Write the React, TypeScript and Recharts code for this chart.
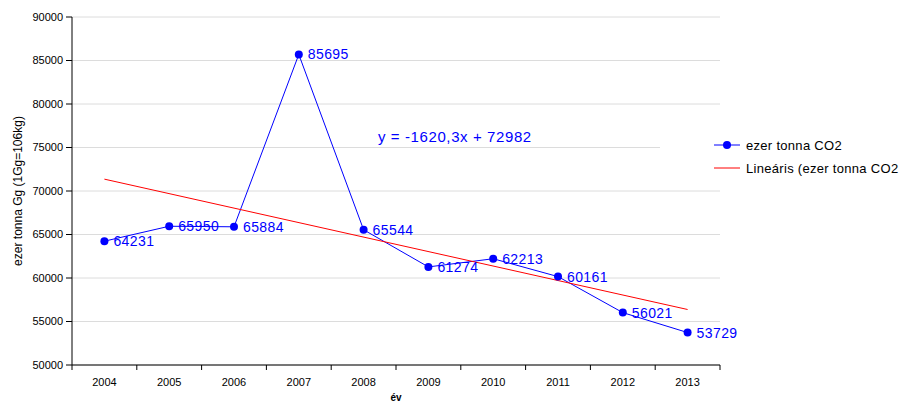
import * as React from "react";
import {
    CartesianGrid,
    LabelList,
    Line,
    LineChart,
    XAxis,
    YAxis,
} from "recharts";

const YEARS: string[] = ["2004", "2005", "2006", "2007", "2008", "2009", "2010", "2011", "2012", "2013"];
const CO2_VALUES: number[] = [64231, 65950, 65884, 85695, 65544, 61274, 62213, 60161, 56021, 53729];
// trendline end points (y = -1620,3x + 72982)
const TREND_X: number[] = [1, 10];
const TREND_VALUES: number[] = [71362, 56379];
const Y_TICKS: number[] = [50000, 55000, 60000, 65000, 70000, 75000, 80000, 85000, 90000];

const FONT = '"Liberation Sans", Arial, sans-serif';
const BLUE = "#0000ff";
const RED = "#ff0000";

const CHART_W = 905;
const CHART_H = 402;
const MARGIN = { top: 17, right: 185, bottom: 7, left: 12 };
const Y_AXIS_W = 60;
const BAND = (CHART_W - MARGIN.left - Y_AXIS_W - MARGIN.right) / YEARS.length;

const co2Data = YEARS.map((year, i) => ({ x: i + 1, year, value: CO2_VALUES[i] }));
const trendData = TREND_X.map((x, i) => ({ x, trend: TREND_VALUES[i] }));

const YearTick = (props: any) => {
    const { x, y, payload, index } = props;
    const year = YEARS[payload.value - 1];
    return (
        <g>
            <line x1={x - BAND / 2} y1={y - 5} x2={x - BAND / 2} y2={y} stroke="#000" />
            {index === YEARS.length - 1 &&
                <line x1={x + BAND / 2} y1={y - 5} x2={x + BAND / 2} y2={y} stroke="#000" />}
            <text x={x} y={y} dy={16} textAnchor="middle" fontSize={11} fill="#000" fontFamily={FONT}>
                {year}
            </text>
        </g>
    );
};

const YTitle = (props: any) => {
    const { viewBox } = props;
    const cx = viewBox.x + 10;
    const cy = viewBox.y + viewBox.height / 2;
    return (
        <text x={cx} y={cy} transform={`rotate(-90 ${cx} ${cy})`} textAnchor="middle"
            fontSize={12} fill="#000" fontFamily={FONT}>
            ezer tonna Gg (1Gg=106kg)
        </text>
    );
};

const XTitle = (props: any) => {
    const { viewBox } = props;
    return (
        <text x={viewBox.x + viewBox.width / 2} y={viewBox.y + 36} textAnchor="middle"
            fontSize={10} fontWeight="bold" fill="#000" fontFamily={FONT}>
            év
        </text>
    );
};

const App = (): JSX.Element => {
    return (
        <div style={{ position: "absolute", left: 0, top: 0, width: CHART_W, height: CHART_H, fontFamily: FONT, background: "#fff", overflow: "hidden" }}>
            <LineChart width={CHART_W} height={CHART_H} margin={MARGIN}>
                <CartesianGrid vertical={false} stroke="#dcdcdc" />
                <XAxis
                    dataKey="x"
                    type="number"
                    domain={[0.5, 10.5]}
                    ticks={co2Data.map(d => d.x)}
                    allowDataOverflow
                    height={30}
                    tickLine={false}
                    tickSize={5}
                    tickMargin={0}
                    axisLine={{ stroke: "#000" }}
                    tick={<YearTick />}
                    label={<XTitle />}
                />
                <YAxis
                    type="number"
                    domain={[50000, 90000]}
                    ticks={Y_TICKS}
                    width={Y_AXIS_W}
                    tickSize={6}
                    tickMargin={3}
                    axisLine={{ stroke: "#000" }}
                    tickLine={{ stroke: "#000" }}
                    tick={{ fontSize: 11, fill: "#000", fontFamily: FONT }}
                    label={<YTitle />}
                />
                <Line
                    data={co2Data}
                    dataKey="value"
                    stroke={BLUE}
                    strokeWidth={1}
                    dot={{ r: 4, fill: BLUE, stroke: BLUE, strokeWidth: 0 }}
                    activeDot={false}
                    isAnimationActive={false}>
                    <LabelList dataKey="value" position="right" offset={9}
                        fill={BLUE} fontSize={14} fontFamily={FONT} style={{ letterSpacing: 0.4 }} />
                </Line>
                <Line
                    data={trendData}
                    dataKey="trend"
                    stroke={RED}
                    strokeWidth={1}
                    dot={false}
                    activeDot={false}
                    isAnimationActive={false}
                />
            </LineChart>
            <div style={{ position: "absolute", left: 378, top: 128, fontSize: 15, letterSpacing: 0.6, color: BLUE, whiteSpace: "nowrap" }}>
                y = -1620,3x + 72982
            </div>
            <div style={{ position: "absolute", left: 660, top: 132, width: 245, height: 48, background: "#fff" }}>
                <svg width={245} height={48} style={{ position: "absolute", left: 0, top: 0 }}>
                    <line x1={54} y1={13} x2={80} y2={13} stroke={BLUE} strokeWidth={1} />
                    <circle cx={67} cy={13} r={4} fill={BLUE} />
                    <text x={86} y={17.5} fontSize={13} letterSpacing={0.3} fill="#000" fontFamily={FONT}>ezer tonna CO2</text>
                    <line x1={54} y1={36} x2={80} y2={36} stroke={RED} strokeWidth={1} />
                    <text x={86} y={40.5} fontSize={13} letterSpacing={0.3} fill="#000" fontFamily={FONT}>Lineáris (ezer tonna CO2</text>
                </svg>
            </div>
        </div>
    );
};

export default App;
